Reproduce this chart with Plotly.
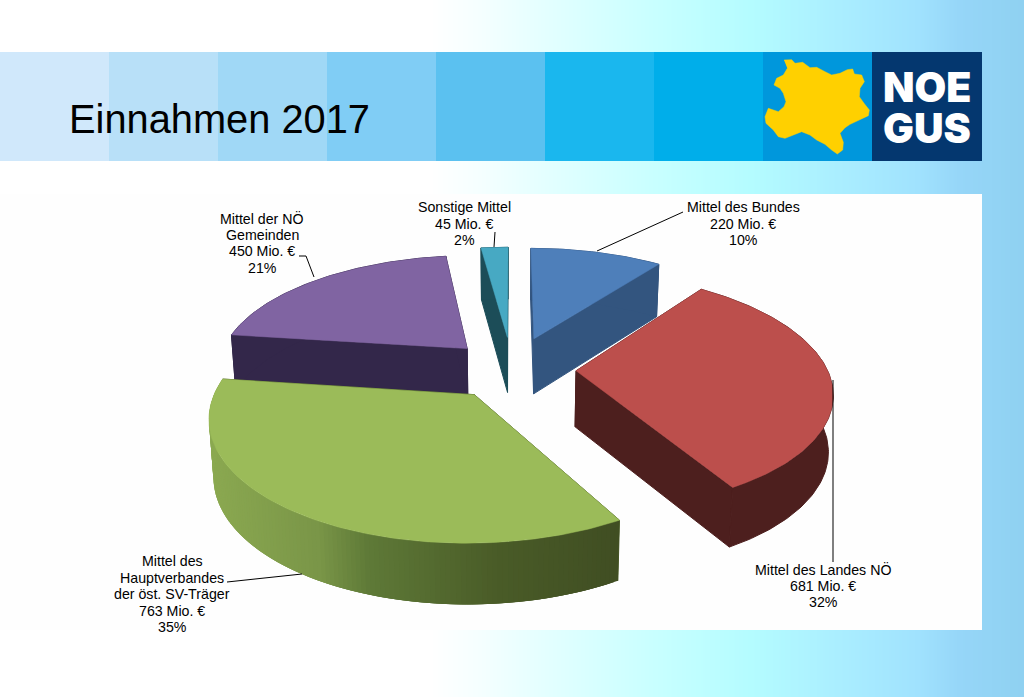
import numpy as np
import plotly.graph_objects as go

# chart data
LABELS = [
    ["Mittel des Bundes", "220 Mio. €", "10%"],
    ["Mittel des Landes NÖ", "681 Mio. €", "32%"],
    ["Mittel des", "Hauptverbandes", "der öst. SV-Träger", "763 Mio. €", "35%"],
    ["Mittel der NÖ", "Gemeinden", "450 Mio. €", "21%"],
    ["Sonstige Mittel", "45 Mio. €", "2%"],
]
VALUES = [220, 681, 763, 450, 45]
TITLE = "Einnahmen 2017"

TOP_COLORS = ["#4e7fba", "#bc4f4c", "#9bbb59", "#8064a2", "#47a9c3"]
SIDE_COLORS = ["#33557f", "#4d1f1e", "#4a5c28", "#33274a", "#1c4d58"]

# pie projection
CX, CY = 512, 369
RX, RY = 251, 114.5
PERSP = 0.165
EXPLODE = [0.29, 0.255, 0.26, 0.26, 0.29]
DEPTH = 56
BOTTOM_SHRINK = 0.985

BLOCK_COLORS = ["#d0e8fb", "#b8e0f8", "#a0d8f6", "#80cdf5", "#5bc1f0",
                "#1ab7ee", "#00aeea", "#0097dc", "#04376f"]

BG_STOPS = [(0, "#ffffff"), (430, "#ffffff"), (480, "#f5ffff"), (550, "#e2ffff"), (655, "#c8ffff"),
            (750, "#b4fcff"), (838, "#aaeeff"), (918, "#a0e2fe"), (958, "#96d6f8"), (1024, "#8fd1f1")]
GREEN_STOPS = [(200, "#8dab52"), (320, "#7a9648"), (370, "#5f7a38"),
               (500, "#4a5c28"), (640, "#3f4c22")]

# yellow map in the logo
LOGO_X = [72, 95, 105, 128, 150, 170, 195, 215, 240, 262, 278, 283, 305, 313, 300, 298, 312, 328, 325,
          295, 270, 255, 240, 250, 248, 232, 215, 195, 170, 150, 125, 100, 75, 55, 40, 18, 15, 25, 40,
          55, 72, 78, 70, 60, 42, 50, 70, 82]
LOGO_Y = [15, 14, 25, 22, 38, 37, 50, 60, 55, 44, 42, 57, 60, 80, 100, 125, 145, 165, 182,
          195, 208, 218, 235, 262, 285, 297, 285, 268, 255, 240, 230, 240, 250, 245, 225, 205, 185, 160, 165,
          170, 155, 140, 115, 100, 90, 70, 60, 40]


def project(X, Y, bottom=False):
    s = 1 / (1 + PERSP * Y)
    x = RX * X * s
    y = CY - RY * Y * s
    if bottom:
        return CX + x * BOTTOM_SHRINK, y + DEPTH * s ** 0.4
    return CX + x, y


def hex_rgb(c):
    return np.array([int(c[i:i + 2], 16) for i in (1, 3, 5)], dtype=float)


def green_at(x):
    xs = [p[0] for p in GREEN_STOPS]
    rgb = np.array([hex_rgb(p[1]) for p in GREEN_STOPS])
    vals = [np.interp(x, xs, rgb[:, i]) for i in range(3)]
    return "rgb(%d,%d,%d)" % tuple(vals)


fig = go.Figure()


def add_poly(xs, ys, color, edge=1.0):
    fig.add_trace(go.Scatter(
        x=list(xs), y=list(ys), mode="lines", fill="toself", fillcolor=color,
        line=dict(color=color, width=edge), hoverinfo="skip", showlegend=False,
    ))


# slide background
xs_bg = np.arange(0, 1028, 4)
stops = [[p / 1024, c] for p, c in BG_STOPS]
fig.add_trace(go.Heatmap(x=xs_bg, y=[0, 697], z=[xs_bg, xs_bg], colorscale=stops, zmin=0, zmax=1024,
                         zsmooth="best", showscale=False, hoverinfo="skip"))

# chart panel and banner
add_poly([0, 982, 982, 0, 0], [194, 194, 630, 630, 194], "#fefefe", edge=0)
for i, c in enumerate(BLOCK_COLORS):
    x0, x1 = i * 109, (i + 1) * 109 + (1 if i == 8 else 0)
    add_poly([x0, x1, x1, x0, x0], [52, 52, 161, 161, 52], c, edge=0)
add_poly([760 + v / 3 for v in LOGO_X], [55 + v / 3 for v in LOGO_Y], "#ffd000", edge=0.5)

# pie slices, angles clockwise from the top
total = sum(VALUES)
edges = np.cumsum([0] + VALUES) / total * 2 * np.pi

# back to front
for i in [4, 0, 3, 1, 2]:
    a0, a1 = edges[i], edges[i + 1]
    mid = (a0 + a1) / 2
    th = np.linspace(a0, a1, max(int((a1 - a0) * 60), 4))
    ox, oy = EXPLODE[i] * np.sin(mid), EXPLODE[i] * np.cos(mid)
    X = ox + np.sin(th)
    Y = oy + np.cos(th)
    tx, ty = project(X, Y)
    bx, by = project(X, Y, bottom=True)
    ax, ay = project(ox, oy)
    abx, aby = project(ox, oy, bottom=True)

    # radial walls and outer wall in the dark side colour
    side = SIDE_COLORS[i]
    add_poly([ax, tx[0], bx[0], abx, ax], [ay, ty[0], by[0], aby, ay], side)
    add_poly([ax, tx[-1], bx[-1], abx, ax], [ay, ty[-1], by[-1], aby, ay], side)
    if i == 2:
        # overlapping strips so the gradient has no seams
        for j in range(len(tx) - 1):
            k = min(j + 3, len(tx) - 1)
            add_poly(list(tx[j:k + 1]) + list(bx[j:k + 1][::-1]) + [tx[j]],
                     list(ty[j:k + 1]) + list(by[j:k + 1][::-1]) + [ty[j]],
                     green_at(tx[j]), edge=0)
    else:
        add_poly(list(tx) + list(bx[::-1]) + [tx[0]], list(ty) + list(by[::-1]) + [ty[0]], side)

    add_poly([ax] + list(tx) + [ax], [ay] + list(ty) + [ay], TOP_COLORS[i], edge=0.5)

# leader lines
LEADERS = [
    ([597, 683], [251, 212]),
    ([833, 833], [380, 562]),
    ([302, 227], [574, 582]),
    ([314, 306, 299], [277, 256, 256]),
    ([494, 495], [247, 232]),
]
for lx, ly in LEADERS:
    fig.add_trace(go.Scatter(x=lx, y=ly, mode="lines", line=dict(color="#000000", width=1),
                             hoverinfo="skip", showlegend=False))

# data labels, one annotation per line for the tight line spacing
LABEL_POS = [(743, 207), (823, 569), (172, 561), (262, 218), (464, 207)]
annotations = []
for lines, (lx, ly) in zip(LABELS, LABEL_POS):
    for n, line in enumerate(lines):
        annotations.append(dict(x=lx, y=ly + n * 16.6, text=line, showarrow=False, xanchor="center",
                                yanchor="middle", font=dict(family="Liberation Sans", size=14.2, color="#000000")))

annotations.append(dict(x=67, y=119, text=TITLE, showarrow=False, xanchor="left", yanchor="middle",
                        font=dict(family="Liberation Sans", size=39.8, color="#000000")))
for word, wy in [("NOE", 87), ("GUS", 128)]:
    annotations.append(dict(x=926.5, y=wy, text=word, showarrow=False, xanchor="center", yanchor="middle",
                            height=38, font=dict(family="Inter", size=41, weight=900, color="#ffffff")))

fig.update_layout(
    width=1024, height=697,
    margin=dict(l=0, r=0, t=0, b=0),
    plot_bgcolor="white", paper_bgcolor="white",
    showlegend=False,
    annotations=annotations,
    xaxis=dict(range=[0, 1024], visible=False, fixedrange=True),
    yaxis=dict(range=[697, 0], visible=False, fixedrange=True),
)

fig.write_html("out.html", config={"displayModeBar": False},
               post_script="document.body.style.margin='0';document.body.style.overflow='hidden';")
